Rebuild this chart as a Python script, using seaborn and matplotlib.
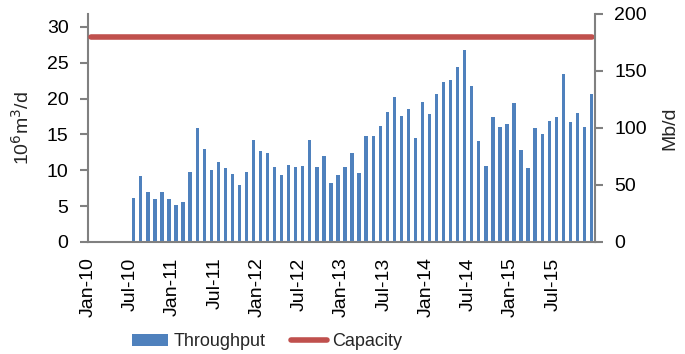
import numpy as np
import pandas as pd
import matplotlib.pyplot as plt
import seaborn as sns
from matplotlib.patches import Patch
from matplotlib.lines import Line2D

sns.set_style('white')
plt.rcParams['font.family'] = ['Liberation Sans', 'DejaVu Sans']

# monthly throughput, 10^6 m3/d, Jan-2010 .. Dec-2015 (no flow before Jul-2010)
months = pd.date_range('2010-01-01', '2015-12-01', freq='MS')
throughput = [np.nan] * 6 + [
    6.2, 9.2, 7.0, 6.0, 7.0, 6.0,
    5.2, 5.6, 9.7, 15.9, 13.0, 10.0, 11.1, 10.3, 9.5, 8.0, 9.7, 14.2,
    12.7, 12.4, 10.5, 9.4, 10.7, 10.5, 10.6, 14.3, 10.5, 12.0, 8.3, 9.4,
    10.5, 12.4, 9.6, 14.8, 14.8, 16.2, 18.1, 20.2, 17.6, 18.5, 14.5, 19.5,
    17.8, 20.7, 22.3, 22.6, 24.4, 26.8, 21.7, 14.1, 10.6, 17.5, 16.0, 16.5,
    19.4, 12.8, 10.3, 15.9, 15.0, 16.9, 17.5, 23.5, 16.7, 18.0, 16.1, 20.6,
]
capacity_mbd = 180
tick_labels = ['Jan-10', 'Jul-10', 'Jan-11', 'Jul-11', 'Jan-12', 'Jul-12',
               'Jan-13', 'Jul-13', 'Jan-14', 'Jul-14', 'Jan-15', 'Jul-15']

df = pd.DataFrame({'month': months.strftime('%b-%y'), 'throughput': throughput})

blue = '#4F81BD'
red = '#C0504D'
grey = '#808080'
fs = 14

fig = plt.figure(figsize=(6.85, 3.54), dpi=100)
ax = fig.add_axes([0.1285, 0.3164, 0.7401, 0.6441])
sns.barplot(data=df, x='month', y='throughput', color=blue, width=0.47,
            saturation=1, linewidth=0, ax=ax)
ax.set_xlim(-0.5, len(months) - 0.5)
ax.set_ylim(0, 30 * 228 / 215)
ax.set_yticks(np.arange(0, 31, 5))
ax.set_xticks(np.arange(-0.5, len(months), 6))
ax.set_xticklabels(tick_labels + [''], rotation=90)
ax.set_xlabel('')
ax.set_ylabel('10$^6$m$^3$/d', fontsize=fs, labelpad=10)

ax2 = ax.twinx()
ax2.set_ylim(0, 200)
ax2.set_yticks(np.arange(0, 201, 50))
ax2.axhline(capacity_mbd, color=red, lw=4, solid_capstyle='round',
            xmin=0.005, xmax=0.995)
ax2.set_ylabel('Mb/d', fontsize=fs, labelpad=10)

for a in (ax, ax2):
    for s in a.spines.values():
        s.set_visible(False)
ax.spines['left'].set_visible(True)
ax.spines['bottom'].set_visible(True)
ax2.spines['right'].set_visible(True)
for s in (ax.spines['left'], ax.spines['bottom'], ax2.spines['right']):
    s.set_color(grey)
    s.set_linewidth(1.5)
ax.tick_params(axis='both', colors=grey, labelcolor='black', labelsize=fs,
               direction='out', length=6, width=1.5)
ax.tick_params(axis='x', length=5, pad=6)
ax.tick_params(axis='y', pad=8)
ax2.tick_params(axis='y', colors=grey, labelcolor='black', labelsize=fs,
                direction='out', length=6, width=1.5, pad=8)

handles = [Patch(facecolor=blue, edgecolor='none', label='Throughput'),
           Line2D([0], [0], color=red, lw=4, solid_capstyle='round', label='Capacity')]
fig.legend(handles=handles, loc='lower center', bbox_to_anchor=(0.39, -0.035),
           ncol=2, frameon=False, fontsize=13, handlelength=2.0,
           columnspacing=1.4, handletextpad=0.3)

fig.savefig('out.png', dpi=100)
plt.close(fig)
